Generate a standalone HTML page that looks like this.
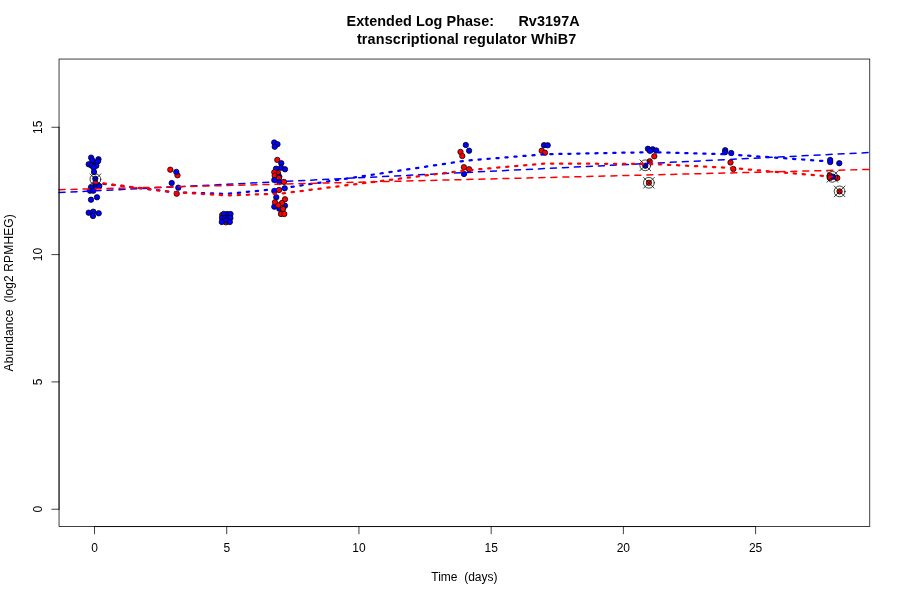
<!DOCTYPE html>
<html><head><meta charset="utf-8"><title>Extended Log Phase: Rv3197A</title>
<style>html,body{margin:0;padding:0;background:#fff;}svg{display:block;will-change:transform;}text{font-family:"Liberation Sans",sans-serif;fill:#000;}</style></head><body>
<svg width="900" height="600" viewBox="0 0 900 600">
<rect x="0" y="0" width="900" height="600" fill="#ffffff"/>
<g stroke="#000" stroke-width="0.75">
<circle cx="95.5" cy="186.6" r="2.70" fill="#0000ff"/>
<circle cx="95.2" cy="163.0" r="2.70" fill="#0000ff"/>
<circle cx="91.1" cy="157.6" r="2.70" fill="#0000ff"/>
<circle cx="98.5" cy="159.2" r="2.70" fill="#0000ff"/>
<circle cx="92.3" cy="160.2" r="2.70" fill="#0000ff"/>
<circle cx="98.0" cy="161.3" r="2.70" fill="#0000ff"/>
<circle cx="88.7" cy="164.3" r="2.70" fill="#0000ff"/>
<circle cx="91.7" cy="165.7" r="2.70" fill="#0000ff"/>
<circle cx="96.3" cy="165.7" r="2.70" fill="#0000ff"/>
<circle cx="93.7" cy="167.7" r="2.70" fill="#0000ff"/>
<circle cx="94.0" cy="172.0" r="2.70" fill="#0000ff"/>
<circle cx="95.3" cy="178.7" r="2.70" fill="#0000ff"/>
<circle cx="95.5" cy="183.8" r="2.70" fill="#0000ff"/>
<circle cx="99.3" cy="186.0" r="2.70" fill="#0000ff"/>
<circle cx="91.0" cy="187.3" r="2.70" fill="#0000ff"/>
<circle cx="90.0" cy="190.7" r="2.70" fill="#0000ff"/>
<circle cx="93.3" cy="190.7" r="2.70" fill="#0000ff"/>
<circle cx="97.0" cy="197.3" r="2.70" fill="#0000ff"/>
<circle cx="91.0" cy="199.7" r="2.70" fill="#0000ff"/>
<circle cx="88.7" cy="212.7" r="2.70" fill="#0000ff"/>
<circle cx="93.3" cy="211.7" r="2.70" fill="#0000ff"/>
<circle cx="98.7" cy="213.3" r="2.70" fill="#0000ff"/>
<circle cx="93.0" cy="216.0" r="2.70" fill="#0000ff"/>
<circle cx="170.3" cy="169.7" r="2.70" fill="#ff0000"/>
<circle cx="177.5" cy="175.3" r="2.70" fill="#ff0000"/>
<circle cx="176.3" cy="171.9" r="2.70" fill="#0000ff"/>
<circle cx="171.7" cy="183.0" r="2.70" fill="#0000ff"/>
<circle cx="178.3" cy="187.7" r="2.70" fill="#0000ff"/>
<circle cx="176.7" cy="193.7" r="2.70" fill="#ff0000"/>
<circle cx="222.2" cy="215.0" r="2.70" fill="#ff0000"/>
<circle cx="226.0" cy="222.3" r="2.70" fill="#ff0000"/>
<circle cx="227.2" cy="214.0" r="2.70" fill="#0000ff"/>
<circle cx="223.8" cy="213.9" r="2.70" fill="#0000ff"/>
<circle cx="230.5" cy="214.0" r="2.70" fill="#0000ff"/>
<circle cx="222.0" cy="218.0" r="2.70" fill="#0000ff"/>
<circle cx="225.0" cy="218.0" r="2.70" fill="#0000ff"/>
<circle cx="228.0" cy="218.0" r="2.70" fill="#0000ff"/>
<circle cx="230.4" cy="218.0" r="2.70" fill="#0000ff"/>
<circle cx="226.0" cy="220.5" r="2.70" fill="#0000ff"/>
<circle cx="221.8" cy="222.0" r="2.70" fill="#0000ff"/>
<circle cx="229.8" cy="222.0" r="2.70" fill="#0000ff"/>
<circle cx="274.2" cy="142.5" r="2.70" fill="#0000ff"/>
<circle cx="277.5" cy="144.2" r="2.70" fill="#0000ff"/>
<circle cx="274.7" cy="146.7" r="2.70" fill="#0000ff"/>
<circle cx="277.3" cy="159.9" r="2.70" fill="#ff0000"/>
<circle cx="281.3" cy="163.2" r="2.70" fill="#0000ff"/>
<circle cx="276.0" cy="168.7" r="2.70" fill="#0000ff"/>
<circle cx="281.0" cy="167.7" r="2.70" fill="#0000ff"/>
<circle cx="285.0" cy="169.3" r="2.70" fill="#0000ff"/>
<circle cx="278.0" cy="173.0" r="2.70" fill="#ff0000"/>
<circle cx="274.3" cy="172.3" r="2.70" fill="#ff0000"/>
<circle cx="274.7" cy="175.7" r="2.70" fill="#ff0000"/>
<circle cx="279.3" cy="176.7" r="2.70" fill="#0000ff"/>
<circle cx="279.0" cy="178.0" r="2.70" fill="#ff0000"/>
<circle cx="274.3" cy="180.0" r="2.70" fill="#0000ff"/>
<circle cx="279.5" cy="182.0" r="2.70" fill="#0000ff"/>
<circle cx="284.0" cy="181.9" r="2.70" fill="#ff0000"/>
<circle cx="274.3" cy="191.0" r="2.70" fill="#0000ff"/>
<circle cx="279.0" cy="190.0" r="2.70" fill="#ff0000"/>
<circle cx="284.7" cy="188.3" r="2.70" fill="#0000ff"/>
<circle cx="276.3" cy="197.3" r="2.70" fill="#0000ff"/>
<circle cx="285.0" cy="199.3" r="2.70" fill="#ff0000"/>
<circle cx="274.3" cy="206.7" r="2.70" fill="#0000ff"/>
<circle cx="285.0" cy="205.7" r="2.70" fill="#0000ff"/>
<circle cx="279.3" cy="208.7" r="2.70" fill="#0000ff"/>
<circle cx="275.0" cy="202.3" r="2.70" fill="#ff0000"/>
<circle cx="282.0" cy="203.0" r="2.70" fill="#ff0000"/>
<circle cx="278.3" cy="205.3" r="2.70" fill="#ff0000"/>
<circle cx="283.0" cy="209.0" r="2.70" fill="#ff0000"/>
<circle cx="281.0" cy="214.0" r="2.70" fill="#ff0000"/>
<circle cx="284.3" cy="214.0" r="2.70" fill="#ff0000"/>
<circle cx="465.8" cy="145.0" r="2.70" fill="#0000ff"/>
<circle cx="469.1" cy="150.7" r="2.70" fill="#0000ff"/>
<circle cx="460.5" cy="151.9" r="2.70" fill="#ff0000"/>
<circle cx="462.3" cy="156.0" r="2.70" fill="#ff0000"/>
<circle cx="464.0" cy="174.0" r="2.70" fill="#0000ff"/>
<circle cx="463.9" cy="167.2" r="2.70" fill="#ff0000"/>
<circle cx="469.1" cy="169.2" r="2.70" fill="#ff0000"/>
<circle cx="544.0" cy="145.2" r="2.70" fill="#0000ff"/>
<circle cx="547.7" cy="145.3" r="2.70" fill="#0000ff"/>
<circle cx="541.7" cy="150.8" r="2.70" fill="#ff0000"/>
<circle cx="545.0" cy="152.7" r="2.70" fill="#ff0000"/>
<circle cx="647.9" cy="148.8" r="2.70" fill="#0000ff"/>
<circle cx="652.7" cy="149.3" r="2.70" fill="#0000ff"/>
<circle cx="656.3" cy="150.5" r="2.70" fill="#0000ff"/>
<circle cx="649.8" cy="150.8" r="2.70" fill="#0000ff"/>
<circle cx="654.3" cy="156.3" r="2.70" fill="#ff0000"/>
<circle cx="649.7" cy="161.3" r="2.70" fill="#ff0000"/>
<circle cx="645.3" cy="165.7" r="2.70" fill="#0000ff"/>
<circle cx="648.9" cy="182.8" r="2.70" fill="#ff0000"/>
<circle cx="725.2" cy="150.2" r="2.70" fill="#0000ff"/>
<circle cx="725.0" cy="152.3" r="2.70" fill="#0000ff"/>
<circle cx="731.2" cy="153.0" r="2.70" fill="#0000ff"/>
<circle cx="730.5" cy="162.5" r="2.70" fill="#ff0000"/>
<circle cx="733.3" cy="169.0" r="2.70" fill="#ff0000"/>
<circle cx="830.2" cy="162.1" r="2.70" fill="#0000ff"/>
<circle cx="830.2" cy="160.0" r="2.70" fill="#0000ff"/>
<circle cx="839.3" cy="163.2" r="2.70" fill="#0000ff"/>
<circle cx="829.8" cy="175.4" r="2.70" fill="#ff0000"/>
<circle cx="830.0" cy="177.9" r="2.70" fill="#ff0000"/>
<circle cx="837.3" cy="177.9" r="2.70" fill="#ff0000"/>
<circle cx="832.9" cy="176.7" r="2.70" fill="#0000ff"/>
<circle cx="839.6" cy="191.4" r="2.70" fill="#ff0000"/>
</g>
<g stroke="#000" stroke-width="0.75" fill="none" stroke-linecap="round">
<circle cx="95.4" cy="179.3" r="5.40"/>
<path d="M90.00 173.90L100.80 184.70M90.00 184.70L100.80 173.90"/>
<circle cx="645.3" cy="165.3" r="5.40"/>
<path d="M639.90 159.90L650.70 170.70M639.90 170.70L650.70 159.90"/>
<circle cx="648.9" cy="182.8" r="5.40"/>
<path d="M643.50 177.40L654.30 188.20M643.50 188.20L654.30 177.40"/>
<circle cx="832.3" cy="176.8" r="5.40"/>
<path d="M826.90 171.40L837.70 182.20M826.90 182.20L837.70 171.40"/>
<circle cx="839.6" cy="191.4" r="5.40"/>
<path d="M834.20 186.00L845.00 196.80M834.20 196.80L845.00 186.00"/>
</g>
<g fill="none" stroke-linecap="round" stroke-linejoin="round">
<polyline points="94.50,182.80 173.83,192.20 226.72,193.90 279.61,188.70 464.72,160.80 544.05,154.30 649.82,152.20 729.16,154.40 834.93,161.80" stroke="#0000ff" stroke-width="2.25" stroke-dasharray="2.25 6.75"/>
<line x1="59.04" y1="192.6" x2="869.76" y2="152.5" stroke="#0000ff" stroke-width="1.5" stroke-dasharray="6 6"/>
<polyline points="94.50,182.30 173.83,192.20 226.72,195.40 279.61,193.70 464.72,170.50 544.05,163.60 649.82,163.90 729.16,167.80 834.93,177.00" stroke="#ff0000" stroke-width="2.25" stroke-dasharray="2.25 6.75"/>
<line x1="59.04" y1="189.7" x2="869.76" y2="169.4" stroke="#ff0000" stroke-width="1.5" stroke-dasharray="6 6"/>
</g>
<g stroke="#000" stroke-width="0.75" fill="none" stroke-linecap="round">
<path d="M94.50 526.56H755.60"/>
<path d="M94.50 526.56V533.76"/>
<path d="M226.72 526.56V533.76"/>
<path d="M358.94 526.56V533.76"/>
<path d="M491.16 526.56V533.76"/>
<path d="M623.38 526.56V533.76"/>
<path d="M755.60 526.56V533.76"/>
<path d="M59.04 509.24V127.28"/>
<path d="M59.04 509.24H51.84"/>
<path d="M59.04 381.92H51.84"/>
<path d="M59.04 254.60H51.84"/>
<path d="M59.04 127.28H51.84"/>
<rect x="59.04" y="59.04" width="810.72" height="467.52"/>
</g>
<g font-size="12px" text-anchor="middle">
<text x="94.50" y="552.2">0</text>
<text x="226.72" y="552.2">5</text>
<text x="358.94" y="552.2">10</text>
<text x="491.16" y="552.2">15</text>
<text x="623.38" y="552.2">20</text>
<text x="755.60" y="552.2">25</text>
<text transform="translate(41.9 509.24) rotate(-90)">0</text>
<text transform="translate(41.9 381.92) rotate(-90)">5</text>
<text transform="translate(41.9 254.60) rotate(-90)">10</text>
<text transform="translate(41.9 127.28) rotate(-90)">15</text>
<text x="464.4" y="581" xml:space="preserve">Time  (days)</text>
<text transform="translate(12.96 292.8) rotate(-90)" textLength="157.2" lengthAdjust="spacing" xml:space="preserve">Abundance  (log2 RPMHEG)</text>
</g>
<g font-size="14.4px" font-weight="bold" text-anchor="start">
<text x="346.6" y="25.9" textLength="233" lengthAdjust="spacing" xml:space="preserve">Extended Log Phase:      Rv3197A</text>
<text x="356.9" y="43.7" textLength="219.4" lengthAdjust="spacing" xml:space="preserve">transcriptional regulator WhiB7</text>
</g>
</svg></body></html>
